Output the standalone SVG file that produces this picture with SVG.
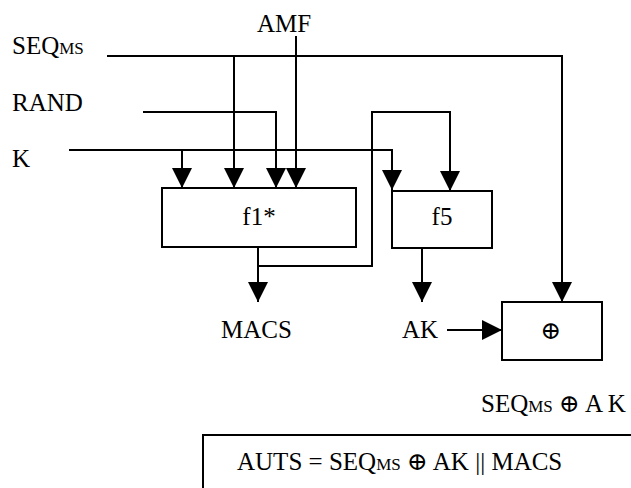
<svg xmlns="http://www.w3.org/2000/svg" width="631" height="488" viewBox="0 0 631 488">
<style>
text{font-family:"Liberation Serif","Times New Roman","DejaVu Serif",serif;font-size:25px;fill:#000}
.s{font-size:17px}
.x{font-size:25px}
.box{fill:#fff;stroke:#000;stroke-width:2}
.ln{fill:none;stroke:#000;stroke-width:2}
</style>
<defs>
<marker id="ah" markerUnits="userSpaceOnUse" markerWidth="20" markerHeight="20" refX="20" refY="10" orient="auto" viewBox="0 0 20 20">
<path d="M0,0 L20,10 L0,20 z" fill="#000"/>
</marker>
</defs>
<rect width="631" height="488" fill="#fff"/>
<g id="connectors">
<path class="ln" d="M107,56 H562 V302" marker-end="url(#ah)"/>
<path class="ln" d="M234,56 V188" marker-end="url(#ah)"/>
<path class="ln" d="M296,36 V188" marker-end="url(#ah)"/>
<path class="ln" d="M143,112 H276 V188" marker-end="url(#ah)"/>
<path class="ln" d="M69,150 H392 V190" marker-end="url(#ah)"/>
<path class="ln" d="M182,150 V188" marker-end="url(#ah)"/>
<path class="ln" d="M258,247 V266 H372 V112 H450 V191" marker-end="url(#ah)"/>
<path class="ln" d="M258,266 V302" marker-end="url(#ah)"/>
<path class="ln" d="M422,248 V302" marker-end="url(#ah)"/>
<path class="ln" d="M447,330 H502" marker-end="url(#ah)"/>
</g>
<g id="inputs">
<text x="257" y="32">AMF</text>
<text x="12" y="54">SEQ<tspan class="s">MS</tspan></text>
<text x="12" y="111">RAND</text>
<text x="12" y="167">K</text>
</g>
<g id="f1">
<rect class="box" x="162" y="188" width="194" height="59"/>
<text x="259" y="225" text-anchor="middle">f1*</text>
</g>
<g id="f5">
<rect class="box" x="392" y="191" width="100" height="57"/>
<text x="442" y="225" text-anchor="middle">f5</text>
</g>
<g id="macs">
<text x="221" y="338">MACS</text>
</g>
<g id="ak">
<text x="402" y="338">AK</text>
</g>
<g id="xor">
<rect class="box" x="502" y="302" width="100" height="58"/>
<text class="x" x="551" y="339" text-anchor="middle">⊕</text>
</g>
<g id="result">
<text x="481" y="412">SEQ<tspan class="s">MS</tspan><tspan class="x"> ⊕ </tspan>A K</text>
</g>
<g id="auts">
<path class="ln" d="M631,435 H203 V488"/>
<text x="237" y="470">AUTS = SEQ<tspan class="s">MS</tspan><tspan class="x"> ⊕ </tspan>AK || MACS</text>
</g>
</svg>
